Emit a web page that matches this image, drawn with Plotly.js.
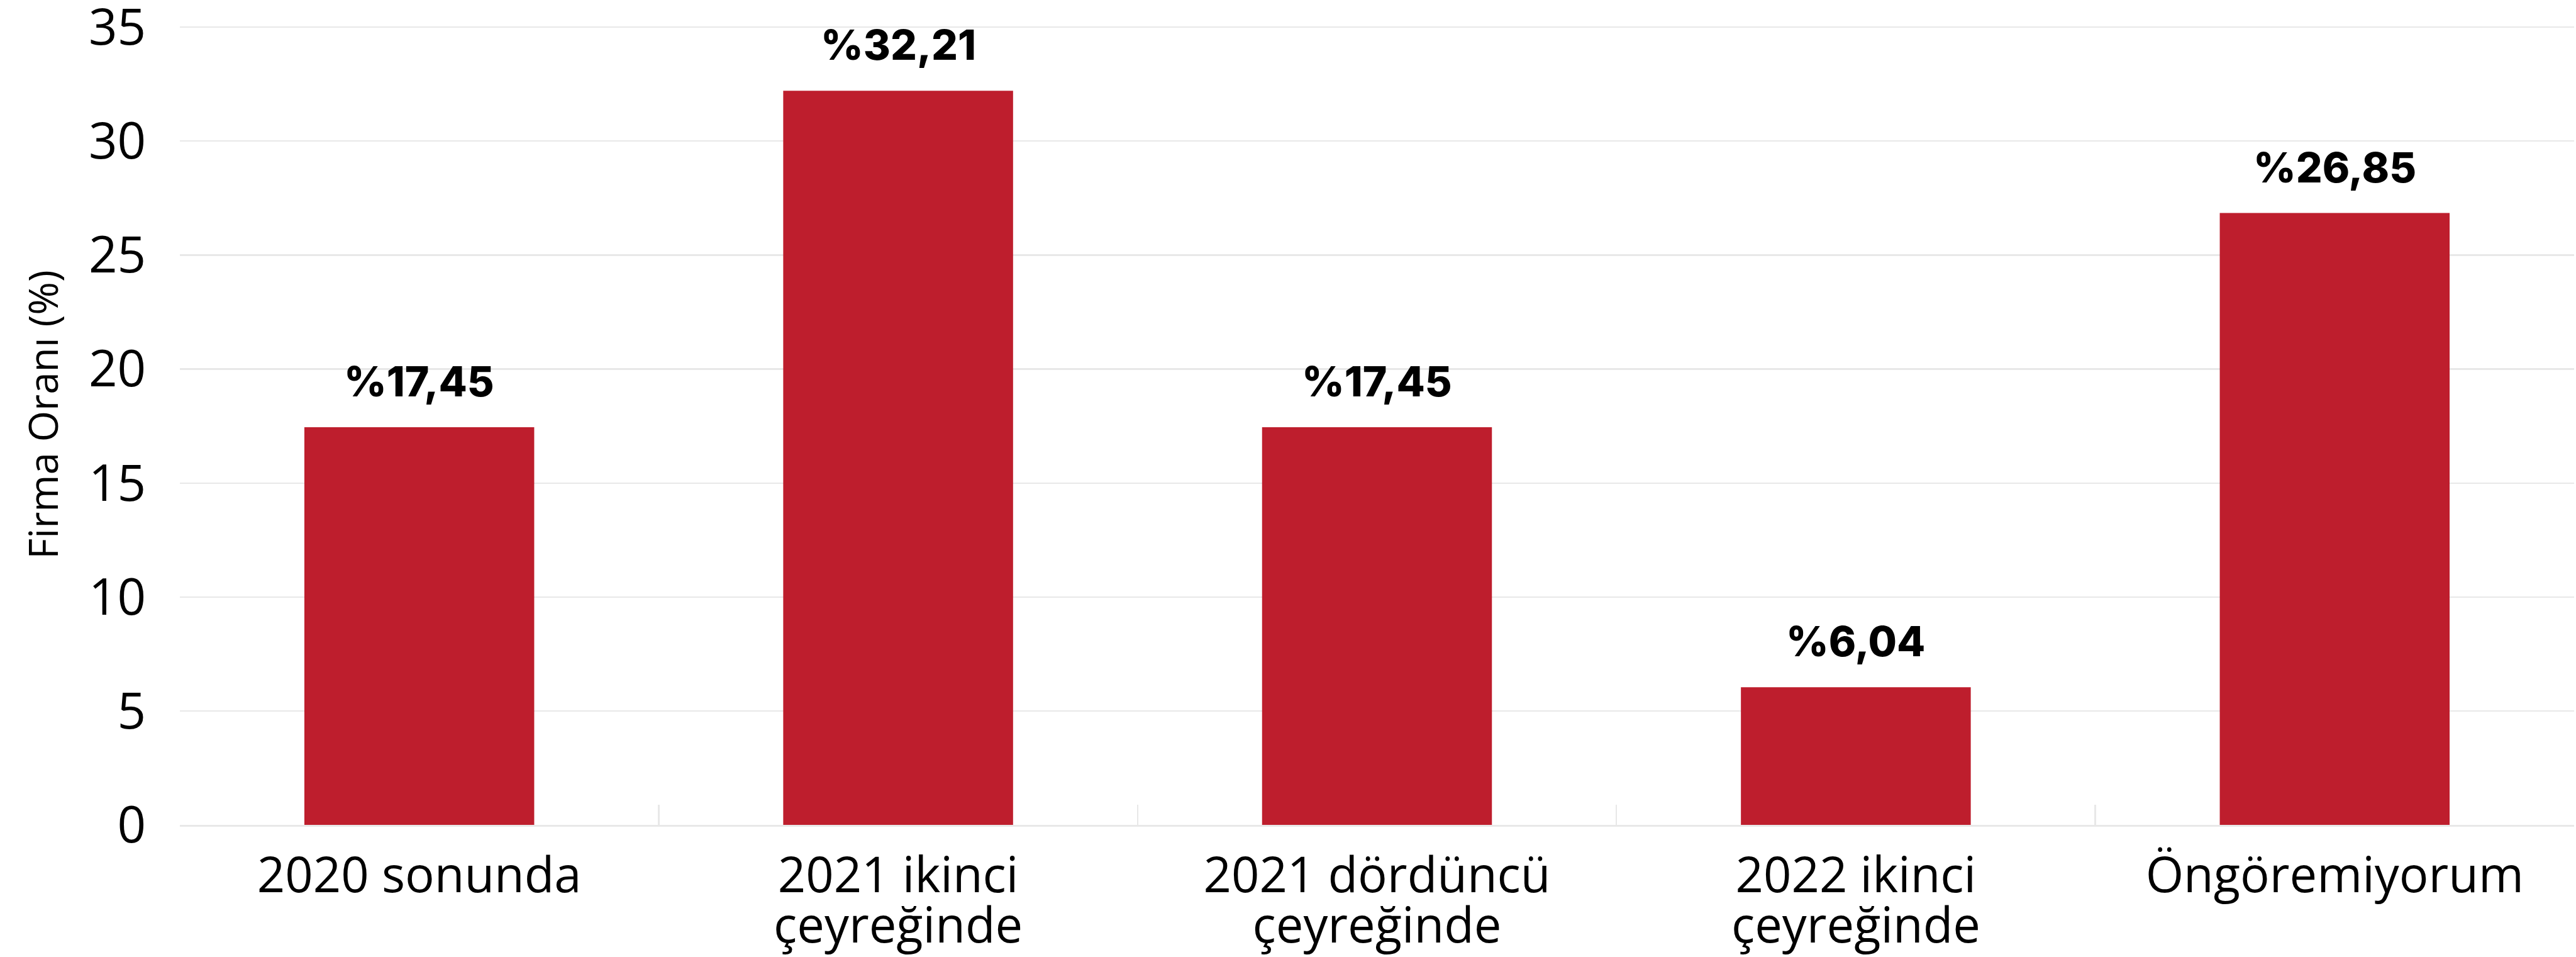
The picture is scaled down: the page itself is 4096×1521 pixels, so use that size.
<!DOCTYPE html>
<html>
<head>
<meta charset="utf-8">
<script src="https://cdn.plot.ly/plotly-3.0.1.min.js"></script>
<style>
  html, body { margin: 0; padding: 0; background: #ffffff; }
  #chart { width: 4096px; height: 1521px; }
</style>
</head>
<body>
<div id="chart"></div>
<script>
// ---- data ----
const categories = ["2020 sonunda", "2021 ikinci çeyreğinde", "2021 dördüncü çeyreğinde", "2022 ikinci çeyreğinde", "Öngöremiyorum"];
const labelLine1 = ["2020 sonunda", "2021 ikinci", "2021 dördüncü", "2022 ikinci", "Öngöremiyorum"];
const labelLine2 = ["", "çeyreğinde", "çeyreğinde", "çeyreğinde", ""];
const values = [17.45, 32.21, 17.45, 6.04, 26.85];
const yTicks = [0, 5, 10, 15, 20, 25, 30, 35];
const yTitle = "Firma Oranı (%)";

const S = 0.997;
const barColor = "#BE1E2D";
const gridColor = "#e8e8e8";
const baseFont = "'Open Sans', 'Noto Sans', sans-serif";
const clear = "rgba(0,0,0,0)";

const valueText = values.map(v => "%" + v.toFixed(2).replace(".", ","));
const idx = categories.map((_, i) => i);

// plot geometry: 0 at the axis line, 35 at the top grid line
const yMax = 36;
const pxPerUnit = 36.33 * S;
const bottomMargin = 210;
const plotBottom = 1521 - bottomMargin;
const topMargin = Math.round(plotBottom - yMax * pxPerUnit);

const barTrace = {
  type: "bar",
  x: categories,
  y: values,
  marker: { color: barColor },
  hoverinfo: "skip",
  showlegend: false
};
// invisible carriers so that the two label axes are drawn
const line1Carrier = { type: "scatter", mode: "markers", x: idx, y: values, xaxis: "x2", yaxis: "y",
  marker: { opacity: 0, size: 1 }, hoverinfo: "skip", showlegend: false };
const line2Carrier = { type: "scatter", mode: "markers", x: idx, y: values, xaxis: "x3", yaxis: "y",
  marker: { opacity: 0, size: 1 }, hoverinfo: "skip", showlegend: false };

const annotations = categories.map((c, i) => ({
  x: c, y: values[i], xref: "x", yref: "y",
  text: valueText[i],
  showarrow: false,
  xanchor: "center", yanchor: "bottom",
  yshift: 31 * S,
  font: { family: "Inter, 'Noto Sans', sans-serif", size: 66 * S, color: "#000000", weight: 800 }
}));

const labelAxis = (texts, len) => ({
  overlaying: "x",
  anchor: "y",
  side: "bottom",
  type: "linear",
  range: [-0.5, categories.length - 0.5],
  tickmode: "array",
  tickvals: idx,
  ticktext: texts,
  ticks: "outside",
  ticklen: len,
  tickcolor: clear,
  showline: false,
  showgrid: false,
  zeroline: false,
  ticklabeloverflow: "allow",
  tickfont: { family: baseFont, size: 78 * S, color: "#000000" }
});

const layout = {
  width: 4096, height: 1521,
  paper_bgcolor: "#ffffff", plot_bgcolor: "#ffffff",
  margin: { l: 286, r: 3, t: topMargin, b: bottomMargin, pad: 0 },
  bargap: 0.52,
  font: { family: baseFont, color: "#000000" },
  xaxis: {
    type: "category",
    tickson: "boundaries",
    ticks: "inside",
    ticklen: 32 * S,
    tickwidth: 2.5,
    tickcolor: gridColor,
    showline: true,
    linecolor: gridColor,
    linewidth: 2.5,
    showgrid: false,
    zeroline: false,
    showticklabels: false
  },
  xaxis2: labelAxis(labelLine1, 13 * S),
  xaxis3: labelAxis(labelLine2, 93 * S),
  yaxis: {
    range: [0, yMax],
    tickmode: "array",
    tickvals: yTicks,
    ticktext: yTicks.map(String),
    ticklabeloverflow: "allow",
    showgrid: true,
    gridcolor: gridColor,
    gridwidth: 2.3,
    zeroline: false,
    showline: false,
    ticks: "outside",
    ticklen: 37 * S,
    tickcolor: clear,
    tickfont: { family: baseFont, size: 80 * S, color: "#000000" },
    title: { text: yTitle, standoff: 27 * S, font: { family: baseFont, size: 64 * S, color: "#000000" } }
  },
  annotations: annotations
};

Plotly.newPlot("chart", [barTrace, line1Carrier, line2Carrier], layout, { staticPlot: true, displayModeBar: false });
</script>
</body>
</html>
